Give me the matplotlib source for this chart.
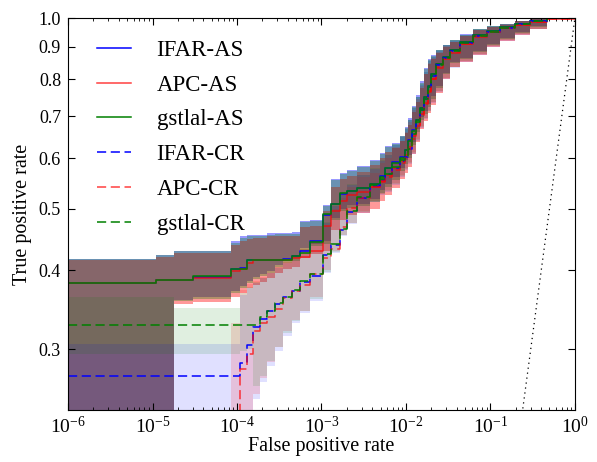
import matplotlib
matplotlib.use("Agg")
import matplotlib.pyplot as plt
from matplotlib.ticker import NullLocator

plt.rcParams['font.family'] = ['Liberation Serif', 'DejaVu Serif']
plt.rcParams['mathtext.fontset'] = 'custom'
plt.rcParams['mathtext.rm'] = 'Liberation Serif'
plt.rcParams['xtick.direction'] = 'in'
plt.rcParams['ytick.direction'] = 'in'
plt.rcParams['xtick.top'] = True
plt.rcParams['ytick.right'] = True

# false positive rate grid (steps)
fpr = [1e-6, 1.1e-5, 1.8e-5, 3.0e-5, 8.6e-5, 1.09e-4, 1.3e-4, 1.55e-4, 1.87e-4, 2.26e-4,
       2.82e-4, 3.5e-4, 4.5e-4, 5.6e-4, 7.3e-4, 1.04e-3, 1.3e-3, 1.66e-3, 2.0e-3, 2.6e-3,
       3.75e-3, 4.9e-3, 5.6e-3, 6.8e-3, 8.5e-3, 9.7e-3, 1.06e-2, 1.18e-2, 1.31e-2, 1.47e-2,
       1.63e-2, 1.82e-2, 1.98e-2, 2.26e-2, 2.74e-2, 3.32e-2, 4.35e-2, 6.2e-2, 9.1e-2, 0.129,
       0.195, 0.293, 0.467, 1.0]

# true positive rates
ifar_as = [0.381, 0.386, 0.386, 0.390, 0.401, 0.403, 0.415, 0.415, 0.415, 0.415,
           0.415, 0.417, 0.421, 0.428, 0.445, 0.488, 0.509, 0.528, 0.534, 0.538,
           0.546, 0.562, 0.580, 0.592, 0.604, 0.618, 0.642, 0.666, 0.690, 0.722,
           0.750, 0.782, 0.815, 0.846, 0.868, 0.890, 0.916, 0.939, 0.953, 0.967,
           0.977, 0.988, 1.0, 1.0]
apc_as = [0.381, 0.386, 0.386, 0.389, 0.398, 0.401, 0.410, 0.415, 0.415, 0.415,
          0.415, 0.415, 0.418, 0.420, 0.428, 0.470, 0.495, 0.515, 0.525, 0.532,
          0.540, 0.550, 0.565, 0.580, 0.595, 0.607, 0.625, 0.650, 0.675, 0.705,
          0.735, 0.768, 0.800, 0.835, 0.860, 0.882, 0.910, 0.935, 0.950, 0.965,
          0.976, 0.987, 0.998, 1.0]
gstlal_as = [0.381, 0.386, 0.386, 0.391, 0.401, 0.401, 0.415, 0.415, 0.415, 0.415,
             0.415, 0.415, 0.421, 0.426, 0.443, 0.491, 0.509, 0.530, 0.534, 0.538,
             0.546, 0.560, 0.580, 0.591, 0.602, 0.618, 0.640, 0.664, 0.689, 0.720,
             0.749, 0.780, 0.815, 0.845, 0.867, 0.889, 0.915, 0.939, 0.953, 0.967,
             0.977, 0.988, 1.0, 1.0]
ifar_cr = [0.272, 0.272, 0.272, 0.272, 0.272, 0.285, 0.305, 0.325, 0.335, 0.345,
           0.353, 0.362, 0.370, 0.383, 0.392, 0.422, 0.438, 0.463, 0.494, 0.519,
           0.543, 0.555, 0.567, 0.580, 0.595, 0.604, 0.622, 0.657, 0.686, 0.716,
           0.746, 0.779, 0.811, 0.843, 0.866, 0.888, 0.914, 0.938, 0.952, 0.966,
           0.977, 0.988, 1.0, 1.0]
apc_cr = [0.2, 0.2, 0.2, 0.2, 0.2, 0.279, 0.295, 0.321, 0.330, 0.337,
          0.347, 0.361, 0.371, 0.379, 0.394, 0.418, 0.432, 0.467, 0.502, 0.520,
          0.540, 0.552, 0.560, 0.575, 0.590, 0.602, 0.620, 0.645, 0.670, 0.700,
          0.732, 0.765, 0.800, 0.836, 0.861, 0.883, 0.911, 0.936, 0.951, 0.965,
          0.976, 0.987, 0.998, 1.0]
gstlal_cr = [0.327, 0.327, 0.327, 0.327, 0.327, 0.327, 0.327, 0.327, 0.337, 0.345,
             0.355, 0.362, 0.372, 0.385, 0.394, 0.424, 0.440, 0.465, 0.496, 0.521,
             0.545, 0.556, 0.568, 0.581, 0.596, 0.605, 0.620, 0.655, 0.685, 0.715,
             0.745, 0.778, 0.810, 0.842, 0.865, 0.887, 0.913, 0.938, 0.952, 0.966,
             0.977, 0.988, 1.0, 1.0]

# confidence bands (lower / upper)
as_lo_ifar = [0.2, 0.2, 0.359, 0.362, 0.371, 0.378, 0.385, 0.390, 0.394, 0.399,
              0.407, 0.413, 0.418, 0.433, 0.440, 0.445, 0.484, 0.500, 0.506, 0.509,
              0.517, 0.536, 0.546, 0.560, 0.580, 0.596, 0.608, 0.638, 0.668, 0.697,
              0.713, 0.731, 0.752, 0.782, 0.820, 0.852, 0.866, 0.888, 0.911, 0.930,
              0.950, 0.970, 1.0, 1.0]
as_hi_ifar = [0.417, 0.423, 0.429, 0.429, 0.444, 0.452, 0.455, 0.455, 0.455, 0.457,
              0.458, 0.458, 0.459, 0.478, 0.480, 0.507, 0.556, 0.570, 0.576, 0.584,
              0.597, 0.613, 0.627, 0.635, 0.652, 0.673, 0.694, 0.727, 0.755, 0.795,
              0.835, 0.860, 0.873, 0.891, 0.907, 0.924, 0.942, 0.961, 0.971, 0.979,
              0.990, 1.0, 1.0, 1.0]
as_lo_apc = [0.2, 0.2, 0.354, 0.356, 0.363, 0.368, 0.374, 0.379, 0.383, 0.388,
             0.396, 0.402, 0.405, 0.418, 0.424, 0.428, 0.462, 0.480, 0.488, 0.493,
             0.500, 0.515, 0.525, 0.538, 0.556, 0.570, 0.582, 0.610, 0.638, 0.668,
             0.688, 0.708, 0.730, 0.760, 0.800, 0.836, 0.852, 0.875, 0.900, 0.920,
             0.940, 0.960, 0.995, 1.0]
as_hi_apc = [0.415, 0.420, 0.425, 0.425, 0.438, 0.445, 0.448, 0.450, 0.450, 0.452,
             0.452, 0.452, 0.452, 0.468, 0.470, 0.495, 0.540, 0.556, 0.564, 0.572,
             0.586, 0.600, 0.614, 0.624, 0.640, 0.658, 0.678, 0.710, 0.738, 0.775,
             0.815, 0.845, 0.862, 0.882, 0.899, 0.917, 0.936, 0.957, 0.967, 0.976,
             0.988, 0.998, 1.0, 1.0]
as_lo_gstlal = [0.2, 0.2, 0.357, 0.360, 0.368, 0.375, 0.382, 0.387, 0.391, 0.396,
                0.404, 0.410, 0.414, 0.429, 0.436, 0.440, 0.479, 0.496, 0.502, 0.505,
                0.512, 0.530, 0.540, 0.554, 0.574, 0.589, 0.600, 0.630, 0.660, 0.689,
                0.705, 0.723, 0.745, 0.775, 0.815, 0.848, 0.862, 0.885, 0.908, 0.928,
                0.948, 0.968, 1.0, 1.0]
as_hi_gstlal = [0.417, 0.422, 0.428, 0.428, 0.442, 0.450, 0.453, 0.453, 0.453, 0.455,
                0.456, 0.456, 0.456, 0.476, 0.478, 0.505, 0.554, 0.568, 0.574, 0.582,
                0.595, 0.611, 0.625, 0.633, 0.650, 0.670, 0.690, 0.723, 0.750, 0.790,
                0.830, 0.857, 0.870, 0.889, 0.905, 0.922, 0.940, 0.960, 0.970, 0.978,
                0.990, 1.0, 1.0, 1.0]
cr_lo_ifar = [0.2, 0.2, 0.2, 0.2, 0.2, 0.2, 0.2, 0.250, 0.266, 0.282,
              0.298, 0.315, 0.330, 0.342, 0.358, 0.395, 0.425, 0.452, 0.472, 0.492,
              0.512, 0.525, 0.532, 0.545, 0.560, 0.575, 0.588, 0.610, 0.640, 0.670,
              0.692, 0.712, 0.735, 0.765, 0.802, 0.835, 0.852, 0.875, 0.900, 0.920,
              0.940, 0.960, 1.0, 1.0]
cr_hi_ifar = [0.306, 0.306, 0.306, 0.306, 0.306, 0.365, 0.375, 0.382, 0.388, 0.395,
              0.403, 0.410, 0.418, 0.430, 0.445, 0.475, 0.505, 0.525, 0.545, 0.565,
              0.578, 0.595, 0.607, 0.630, 0.648, 0.668, 0.690, 0.720, 0.750, 0.785,
              0.822, 0.855, 0.868, 0.888, 0.905, 0.921, 0.939, 0.959, 0.969, 0.978,
              0.989, 0.999, 1.0, 1.0]
cr_lo_apc = [0.2, 0.2, 0.2, 0.2, 0.2, 0.2, 0.2, 0.255, 0.270, 0.286,
             0.302, 0.320, 0.333, 0.345, 0.362, 0.400, 0.429, 0.455, 0.475, 0.495,
             0.515, 0.528, 0.535, 0.548, 0.565, 0.580, 0.592, 0.615, 0.645, 0.675,
             0.695, 0.715, 0.738, 0.768, 0.805, 0.838, 0.855, 0.878, 0.902, 0.922,
             0.942, 0.962, 1.0, 1.0]
cr_hi_apc = [0.2, 0.2, 0.2, 0.2, 0.330, 0.372, 0.380, 0.385, 0.390, 0.396,
             0.405, 0.412, 0.420, 0.432, 0.445, 0.470, 0.500, 0.520, 0.540, 0.560,
             0.570, 0.590, 0.600, 0.625, 0.640, 0.660, 0.685, 0.715, 0.745, 0.780,
             0.815, 0.850, 0.865, 0.885, 0.902, 0.918, 0.937, 0.957, 0.968, 0.977,
             0.988, 0.998, 1.0, 1.0]
cr_lo_gstlal = [0.295, 0.295, 0.295, 0.295, 0.295, 0.298, 0.300, 0.262, 0.272, 0.287,
                0.302, 0.318, 0.332, 0.344, 0.360, 0.397, 0.427, 0.454, 0.474, 0.494,
                0.514, 0.527, 0.534, 0.547, 0.562, 0.577, 0.590, 0.612, 0.642, 0.672,
                0.694, 0.714, 0.737, 0.767, 0.804, 0.837, 0.854, 0.877, 0.902, 0.922,
                0.942, 0.962, 1.0, 1.0]
cr_hi_gstlal = [0.363, 0.363, 0.348, 0.348, 0.348, 0.368, 0.376, 0.383, 0.389, 0.396,
                0.404, 0.411, 0.419, 0.431, 0.446, 0.476, 0.506, 0.526, 0.546, 0.566,
                0.579, 0.596, 0.608, 0.631, 0.649, 0.669, 0.691, 0.721, 0.751, 0.786,
                0.823, 0.856, 0.869, 0.889, 0.906, 0.922, 0.940, 0.960, 0.970, 0.979,
                0.990, 1.0, 1.0, 1.0]

yticks = [0.3, 0.4, 0.5, 0.6, 0.7, 0.8, 0.9, 1.0]

cb, cr, cg = '#0000ff', '#ff0000', '#008000'

fig = plt.figure(figsize=(5.97, 4.62), dpi=100)
ax = fig.add_axes([0.114, 0.1115, 0.849, 0.8495])

# bands
ax.fill_between(fpr, as_lo_ifar, as_hi_ifar, step='post', color=cb, alpha=0.4, lw=0)
ax.fill_between(fpr, as_lo_apc, as_hi_apc, step='post', color=cr, alpha=0.4, lw=0)
ax.fill_between(fpr, as_lo_gstlal, as_hi_gstlal, step='post', color=cg, alpha=0.3, lw=0)
ax.fill_between(fpr, cr_lo_ifar, cr_hi_ifar, step='post', color=cb, alpha=0.12, lw=0)
ax.fill_between(fpr, cr_lo_apc, cr_hi_apc, step='post', color=cr, alpha=0.14, lw=0)
ax.fill_between(fpr, cr_lo_gstlal, cr_hi_gstlal, step='post', color=cg, alpha=0.12, lw=0)

# curves
ax.step(fpr, ifar_as, where='post', color=cb, lw=1.1, label='IFAR-AS')
ax.step(fpr, apc_as, where='post', color=cr, lw=1.1, alpha=0.75, label='APC-AS')
ax.step(fpr, gstlal_as, where='post', color=cg, lw=1.1, label='gstlal-AS')
ax.step(fpr, ifar_cr, where='post', color=cb, lw=1.1, dashes=(6, 3), label='IFAR-CR')
ax.step(fpr, apc_cr, where='post', color=cr, lw=1.1, alpha=0.75, dashes=(6, 3), label='APC-CR')
ax.step(fpr, gstlal_cr, where='post', color=cg, lw=1.1, dashes=(6, 3), label='gstlal-CR')

# chance line
ax.plot([1e-6, 1.0], [1e-6, 1.0], 'k', ls=(0, (1, 3)), lw=0.9)

ax.set_xscale('log')
ax.set_yscale('log')
ax.set_xlim(1e-6, 1.0)
ax.set_ylim(0.24, 1.0)
ax.set_yticks(yticks)
ax.set_yticklabels([f'{t:.1f}' for t in yticks])
ax.yaxis.set_minor_locator(NullLocator())
ax.tick_params(which='major', length=5, width=0.8, labelsize=13, pad=5)
ax.tick_params(which='minor', length=2.5, width=0.6)
ax.tick_params(axis='x', labelsize=14, pad=4)

ax.set_xlabel('False positive rate', fontsize=14.5, labelpad=0)
ax.set_ylabel('True positive rate', fontsize=14.5, labelpad=5)

ax.legend(loc='upper left', bbox_to_anchor=(0.039, 0.968), frameon=False,
          fontsize=16.5, handlelength=1.5, handletextpad=1.1, labelspacing=0.6,
          borderaxespad=0.0)

fig.savefig('out.png', dpi=100)
